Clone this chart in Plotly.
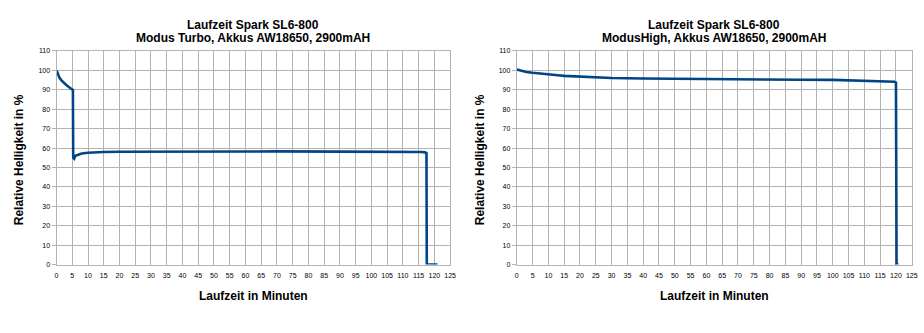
import plotly.graph_objects as go

# Left chart: Modus Turbo
turbo_t = [0, 0.5, 1, 1.5, 2, 3, 4, 5, 5.2, 5.3, 5.6, 6, 7, 8, 10, 12, 15, 20, 30, 50, 70, 90, 100, 110, 116, 117, 117.5, 117.6, 121]
turbo_v = [100, 97.5, 96, 95, 94.1, 92.6, 91.3, 90.3, 90, 55, 54.5, 56, 56.8, 57.2, 57.6, 57.8, 58, 58.1, 58.2, 58.3, 58.3, 58.2, 58.2, 58.1, 58, 57.8, 57.4, 0, 0]

# Right chart: Modus High
high_t = [0, 1, 2, 3, 5, 7, 10, 13, 15, 20, 25, 30, 40, 50, 60, 70, 80, 90, 100, 110, 115, 118, 119.5, 120, 120.2, 120.8]
high_v = [100.5, 100, 99.6, 99.2, 98.8, 98.4, 98, 97.5, 97.2, 96.8, 96.4, 96.1, 95.8, 95.6, 95.5, 95.4, 95.3, 95.2, 95.1, 94.8, 94.6, 94.4, 94.2, 93.8, 0, 0]

title_line1 = "Laufzeit Spark SL6-800"
titles_line2 = ["Modus Turbo, Akkus AW18650, 2900mAH", "ModusHigh, Akkus AW18650, 2900mAH"]
x_title = "Laufzeit in Minuten"
y_title = "Relative Helligkeit in %"

W, H = 924, 333
LINE = "#004586"
GRID = "#b3b3b3"
FONT = "Liberation Sans"

fig = go.Figure()
fig.add_trace(go.Scatter(x=turbo_t, y=turbo_v, mode="lines", line=dict(color=LINE, width=2.6),
                         xaxis="x", yaxis="y", showlegend=False))
fig.add_trace(go.Scatter(x=high_t, y=high_v, mode="lines", line=dict(color=LINE, width=2.6),
                         xaxis="x2", yaxis="y2", showlegend=False))

y_dom = [1 - 266.2 / H, 1 - 48 / H]
left_dom = [55 / W, 452 / W]
right_dom = [519.3 / W, 917.7 / W]

def xax(dom, anchor):
    return dict(domain=dom, anchor=anchor, range=[0, 125], dtick=5, tick0=0,
                showgrid=True, gridcolor=GRID, gridwidth=1, zeroline=False,
                showline=True, linecolor=GRID, mirror=True,
                ticks="", tickangle=0, ticklabelstandoff=4,
                tickfont=dict(family=FONT, size=7, color="#000"),
                fixedrange=True)

def yax(anchor):
    return dict(domain=y_dom, anchor=anchor, range=[0, 110], dtick=10, tick0=0,
                showgrid=True, gridcolor=GRID, gridwidth=1, zeroline=False,
                showline=True, linecolor=GRID, mirror=True,
                ticks="outside", ticklen=4, tickcolor=GRID,
                tickfont=dict(family=FONT, size=7, color="#000"),
                fixedrange=True)

fig.update_layout(
    width=W, height=H,
    margin=dict(l=0, r=0, t=0, b=0),
    paper_bgcolor="white", plot_bgcolor="white",
    xaxis=xax(left_dom, "y"), yaxis=yax("x"),
    xaxis2=xax(right_dom, "y2"), yaxis2=yax("x2"),
)

annots = []
centers = [(left_dom[0] + left_dom[1]) / 2, (right_dom[0] + right_dom[1]) / 2]
ytitle_x = [18 / W, 483 / W]
for i, c in enumerate(centers):
    annots.append(dict(x=c, y=1 - 21 / H, xref="paper", yref="paper", text="<b>%s</b>" % title_line1,
                       showarrow=False, font=dict(family=FONT, size=12, color="#000"),
                       xanchor="center", yanchor="middle"))
    annots.append(dict(x=c, y=1 - 34.5 / H, xref="paper", yref="paper", text="<b>%s</b>" % titles_line2[i],
                       showarrow=False, font=dict(family=FONT, size=12, color="#000"),
                       xanchor="center", yanchor="middle"))
    annots.append(dict(x=c, y=1 - 298 / H, xref="paper", yref="paper", text="<b>%s</b>" % x_title,
                       showarrow=False, font=dict(family=FONT, size=12, color="#000"),
                       xanchor="center", yanchor="middle"))
    annots.append(dict(x=ytitle_x[i], y=(y_dom[0] + y_dom[1]) / 2 - 0.005, xref="paper", yref="paper",
                       text="<b>%s</b>" % y_title, textangle=-90,
                       showarrow=False, font=dict(family=FONT, size=12, color="#000"),
                       xanchor="center", yanchor="middle"))
fig.update_layout(annotations=annots)

fig.write_html("out.html")
